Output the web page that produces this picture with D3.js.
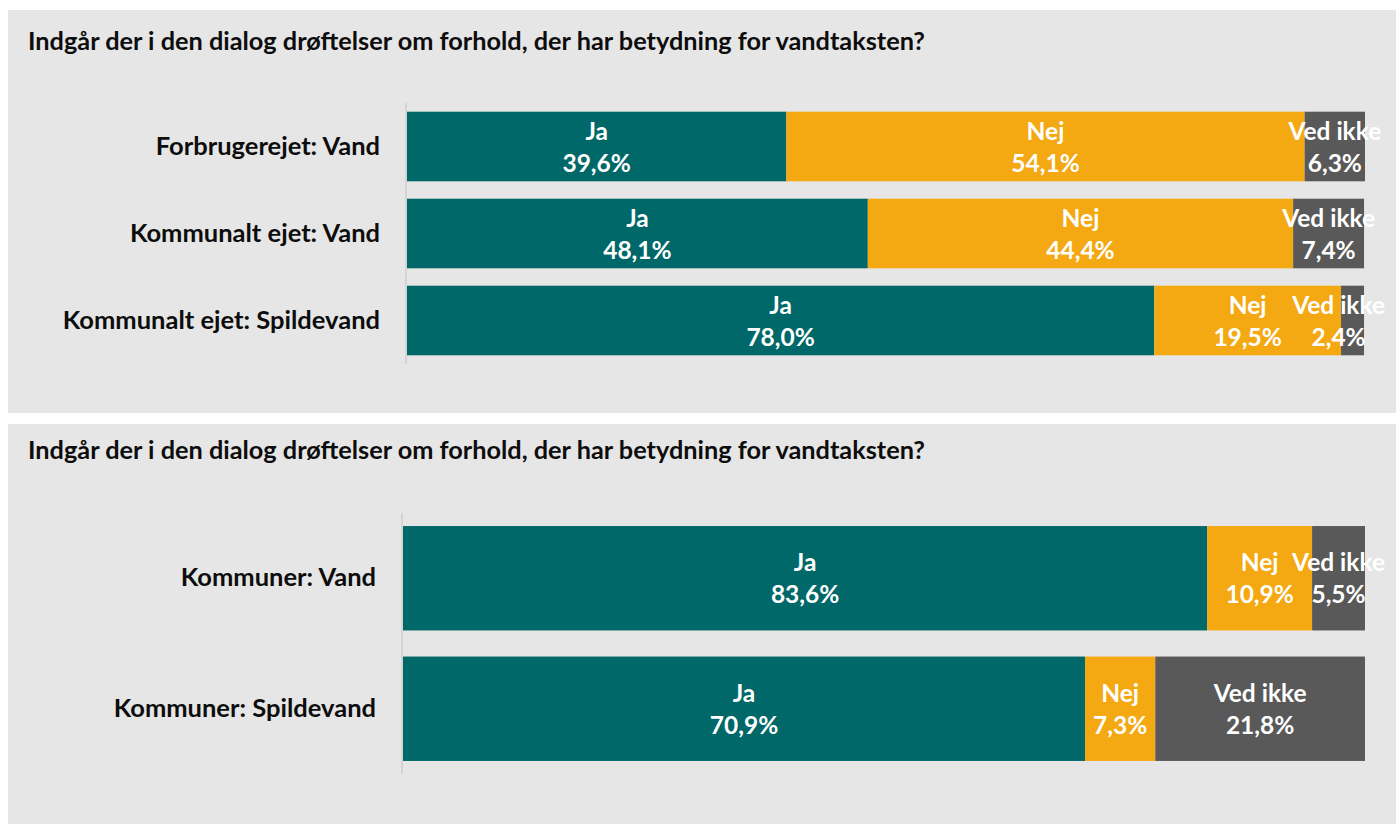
<!DOCTYPE html>
<html>
<head>
<meta charset="utf-8">
<script src="https://cdn.jsdelivr.net/npm/d3@7"></script>
<style>
  html, body { margin: 0; padding: 0; background: #ffffff; }
  svg { display: block; }
  text { font-family: Lato, "Open Sans", sans-serif; font-weight: 700; }
</style>
</head>
<body>
<svg id="chart" width="1396" height="824"></svg>
<script>
// Survey question shown above both panels
const title = "Indgår der i den dialog drøftelser om forhold, der har betydning for vandtaksten?";

// Answer options (stack order left to right)
const answers = ["Ja", "Nej", "Ved ikke"];

// Panel 1: utilities
const utilityCategories = ["Forbrugerejet: Vand", "Kommunalt ejet: Vand", "Kommunalt ejet: Spildevand"];
const utilityJa      = [39.6, 48.1, 78.0];
const utilityNej     = [54.1, 44.4, 19.5];
const utilityVedIkke = [6.3, 7.4, 2.4];

// Panel 2: municipalities
const municipalCategories = ["Kommuner: Vand", "Kommuner: Spildevand"];
const municipalJa      = [83.6, 70.9];
const municipalNej     = [10.9, 7.3];
const municipalVedIkke = [5.5, 21.8];

const colors = { "Ja": "#006868", "Nej": "#f4a812", "Ved ikke": "#595959" };
const fmt = v => d3.format(".1f")(v).replace(".", ",") + "%";

const svg = d3.select("#chart");

function buildRows(categories, ja, nej, vedIkke) {
  return categories.map((c, i) => ({ category: c, "Ja": ja[i], "Nej": nej[i], "Ved ikke": vedIkke[i] }));
}

function drawPanel(cfg) {
  const g = svg.append("g");

  // panel background
  g.append("rect")
    .attr("x", cfg.box[0]).attr("y", cfg.box[1])
    .attr("width", cfg.box[2]).attr("height", cfg.box[3])
    .attr("fill", "#e6e6e6");

  g.append("text")
    .attr("x", cfg.titleX).attr("y", cfg.titleY)
    .attr("font-size", 25.3).attr("fill", "#0d0d0d")
    .text(title);

  const rows = buildRows(...cfg.data);
  const stack = d3.stack().keys(answers)(rows);

  const x = d3.scaleLinear().domain([0, 100]).range(cfg.xRange);
  const y = d3.scaleBand().domain(rows.map(d => d.category))
    .range(cfg.yRange).paddingInner(0.2).paddingOuter(0.1);

  // vertical category axis line
  g.append("line")
    .attr("x1", cfg.xRange[0] - 1).attr("x2", cfg.xRange[0] - 1)
    .attr("y1", cfg.yRange[0]).attr("y2", cfg.yRange[1])
    .attr("stroke", "#d4d4d4").attr("stroke-width", 2);

  // category labels
  g.selectAll("text.cat").data(rows).join("text")
    .attr("class", "cat")
    .attr("x", cfg.xRange[0] - 27)
    .attr("y", d => y(d.category) + y.bandwidth() / 2 + 8)
    .attr("text-anchor", "end")
    .attr("font-size", 25.5).attr("fill", "#0d0d0d")
    .text(d => d.category);

  // stacked segments
  stack.forEach(layer => {
    g.selectAll(null).data(layer).join("rect")
      .attr("x", d => x(d[0]))
      .attr("y", d => y(d.data.category))
      .attr("width", d => x(d[1]) - x(d[0]))
      .attr("height", y.bandwidth())
      .attr("fill", colors[layer.key]);
  });

  // data labels: answer name over value, kept inside the plot area on the right
  const rightLimit = cfg.xRange[1] + 20;
  stack.forEach(layer => {
    layer.forEach(d => {
      const cy = y(d.data.category) + y.bandwidth() / 2;
      const lg = g.append("g").attr("fill", "#ffffff").attr("font-size", 24.5).attr("text-anchor", "middle");
      const t1 = lg.append("text").attr("y", cy - 7).text(layer.key);
      const t2 = lg.append("text").attr("y", cy + 25).text(fmt(d.data[layer.key]));
      const w = Math.max(t1.node().getComputedTextLength(), t2.node().getComputedTextLength());
      let cx = (x(d[0]) + x(d[1])) / 2;
      if (cx + w / 2 > rightLimit) cx = rightLimit - w / 2;
      t1.attr("x", cx);
      t2.attr("x", cx);
    });
  });
}

drawPanel({
  box: [8, 10, 1388, 403],
  titleX: 28, titleY: 50,
  data: [utilityCategories, utilityJa, utilityNej, utilityVedIkke],
  xRange: [407, 1365],
  yRange: [103, 364]
});

drawPanel({
  box: [8, 424, 1388, 400],
  titleX: 28, titleY: 459,
  data: [municipalCategories, municipalJa, municipalNej, municipalVedIkke],
  xRange: [403, 1365],
  yRange: [513, 774]
});
</script>
</body>
</html>
